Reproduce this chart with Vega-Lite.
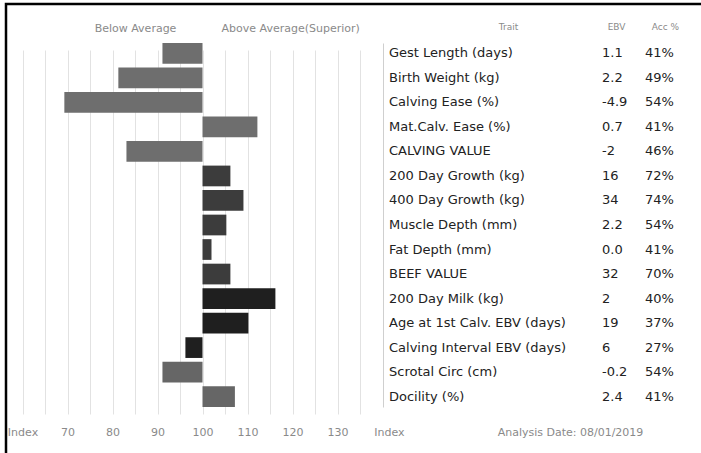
{
  "$schema": "https://vega.github.io/schema/vega-lite/v6.json",
  "width": 695,
  "height": 449,
  "autosize": {"type": "none"},
  "padding": {"left": 6, "top": 4, "right": 0, "bottom": 0},
  "background": "white",
  "config": {
    "view": {"stroke": "#000000", "strokeWidth": 2.5, "strokeDash": [695, 1144, 449]},
    "font": "DejaVu Sans",
    "axis": {"labelFont": "DejaVu Sans"}
  },
  "data": {
    "values": [
      {"trait": "Gest Length (days)", "index": 91.1, "ebv": "1.1", "acc": "41%", "group": "Calving"},
      {"trait": "Birth Weight (kg)", "index": 81.3, "ebv": "2.2", "acc": "49%", "group": "Calving"},
      {"trait": "Calving Ease (%)", "index": 69.3, "ebv": "-4.9", "acc": "54%", "group": "Calving"},
      {"trait": "Mat.Calv. Ease (%)", "index": 112.2, "ebv": "0.7", "acc": "41%", "group": "Calving"},
      {"trait": "CALVING VALUE", "index": 83.1, "ebv": "-2", "acc": "46%", "group": "Calving"},
      {"trait": "200 Day Growth (kg)", "index": 106.2, "ebv": "16", "acc": "72%", "group": "Beef"},
      {"trait": "400 Day Growth (kg)", "index": 109.1, "ebv": "34", "acc": "74%", "group": "Beef"},
      {"trait": "Muscle Depth (mm)", "index": 105.3, "ebv": "2.2", "acc": "54%", "group": "Beef"},
      {"trait": "Fat Depth (mm)", "index": 102.0, "ebv": "0.0", "acc": "41%", "group": "Beef"},
      {"trait": "BEEF VALUE", "index": 106.2, "ebv": "32", "acc": "70%", "group": "Beef"},
      {"trait": "200 Day Milk (kg)", "index": 116.2, "ebv": "2", "acc": "40%", "group": "Maternal"},
      {"trait": "Age at 1st Calv. EBV (days)", "index": 110.2, "ebv": "19", "acc": "37%", "group": "Maternal"},
      {"trait": "Calving Interval EBV (days)", "index": 96.2, "ebv": "6", "acc": "27%", "group": "Maternal"},
      {"trait": "Scrotal Circ (cm)", "index": 91.1, "ebv": "-0.2", "acc": "54%", "group": "Other"},
      {"trait": "Docility (%)", "index": 107.2, "ebv": "2.4", "acc": "41%", "group": "Other"}
    ]
  },
  "encoding": {
    "y": {
      "field": "trait", "type": "nominal", "sort": null,
      "scale": {
        "type": "band",
        "domain": ["Gest Length (days)", "Birth Weight (kg)", "Calving Ease (%)", "Mat.Calv. Ease (%)", "CALVING VALUE", "200 Day Growth (kg)", "400 Day Growth (kg)", "Muscle Depth (mm)", "Fat Depth (mm)", "BEEF VALUE", "200 Day Milk (kg)", "Age at 1st Calv. EBV (days)", "Calving Interval EBV (days)", "Scrotal Circ (cm)", "Docility (%)"],
        "range": [39, 403], "paddingInner": 0.155, "paddingOuter": 0
      },
      "axis": {"orient": "left", "offset": -377, "labels": false, "ticks": false, "domain": true, "domainColor": "#cfcfcf", "domainWidth": 1, "title": null, "grid": false}
    }
  },
  "layer": [
    {
      "layer": [
        {
          "transform": [{"filter": "datum.index < 100"}],
          "mark": {"type": "bar"},
          "encoding": {
            "x": {
              "field": "index", "type": "quantitative",
              "scale": {"domain": [56.3333, 210.7778], "nice": false, "zero": false},
              "axis": {"orient": "top", "values": [85, 119.5], "labelExpr": "datum.value < 100 ? 'Below Average' : 'Above Average(Superior)'", "grid": false, "ticks": false, "tickSize": 0, "domain": false, "labelPadding": 0, "labelBaseline": "alphabetic", "offset": -27, "labelFontSize": 11, "labelColor": "#8a8a8a", "labelOverlap": false, "labelFlush": false, "title": null}
            },
            "x2": {"datum": 100},
            "color": {"field": "group", "type": "nominal", "scale": {"domain": ["Calving", "Beef", "Maternal", "Other"], "range": ["#6e6e6e", "#3c3c3c", "#1f1f1f", "#666666"]}, "legend": null}
          }
        },
        {
          "transform": [{"filter": "datum.index >= 100"}],
          "mark": {"type": "bar"},
          "encoding": {
            "x": {
              "field": "index", "type": "quantitative",
              "scale": {"domain": [56.3333, 210.7778], "nice": false, "zero": false},
              "axis": {"orient": "bottom", "values": [60, 65, 70, 75, 80, 85, 90, 95, 100, 105, 110, 115, 120, 125, 130, 135, 141.44, 181.67], "labelExpr": "datum.value == 60 || (datum.value > 140 && datum.value < 150) ? 'Index' : (datum.value > 150 ? 'Analysis Date: 08/01/2019' : (datum.value % 10 == 0 ? datum.label : ''))", "grid": true, "gridColor": "#e2e2e2", "gridWidth": 1, "gridOpacity": {"condition": {"test": "datum.value > 136", "value": 0}, "value": 1}, "ticks": false, "tickSize": 0, "domain": false, "labelPadding": 0, "labelBaseline": "middle", "offset": -20.5, "labelFontSize": 11, "labelColor": "#8a8a8a", "labelOverlap": false, "labelFlush": false, "title": null}
            },
            "x2": {"datum": 100},
            "color": {"field": "group", "type": "nominal", "scale": {"domain": ["Calving", "Beef", "Maternal", "Other"], "range": ["#6e6e6e", "#3c3c3c", "#1f1f1f", "#666666"]}, "legend": null}
          }
        }
      ],
      "resolve": {"axis": {"x": "independent"}}
    },
    {
      "layer": [
        {
          "mark": {"type": "text", "align": "left", "baseline": "middle", "dx": -170, "fontSize": 13, "font": "DejaVu Sans", "color": "#222222"},
          "encoding": {
            "x": {"datum": "Trait", "type": "nominal", "scale": {"type": "point", "domain": ["Trait", "EBV", "Acc %"], "range": [553, 639], "padding": 0},
              "axis": {"orient": "top", "ticks": false, "tickSize": 0, "domain": false, "grid": false, "title": null, "labelAngle": 0, "labelAlign": "center", "labelBaseline": "alphabetic", "labelPadding": 0, "offset": -25.5, "labelFontSize": 9, "labelColor": "#8a8a8a", "labelOverlap": false, "labelOffset": {"condition": [{"test": "datum.value === 'Trait'", "value": -51}, {"test": "datum.value === 'EBV'", "value": 14}], "value": 20}}},
            "text": {"field": "trait"}
          }
        },
        {
          "mark": {"type": "text", "align": "left", "baseline": "middle", "dx": 0, "fontSize": 13, "font": "DejaVu Sans", "color": "#222222"},
          "encoding": {
            "x": {"datum": "EBV", "type": "nominal", "scale": {"type": "point", "domain": ["Trait", "EBV", "Acc %"], "range": [553, 639], "padding": 0},
              "axis": {"orient": "top", "ticks": false, "tickSize": 0, "domain": false, "grid": false, "title": null, "labelAngle": 0, "labelAlign": "center", "labelBaseline": "alphabetic", "labelPadding": 0, "offset": -25.5, "labelFontSize": 9, "labelColor": "#8a8a8a", "labelOverlap": false, "labelOffset": {"condition": [{"test": "datum.value === 'Trait'", "value": -51}, {"test": "datum.value === 'EBV'", "value": 14}], "value": 20}}},
            "text": {"field": "ebv"}
          }
        },
        {
          "mark": {"type": "text", "align": "left", "baseline": "middle", "dx": 0, "fontSize": 13, "font": "DejaVu Sans", "color": "#222222"},
          "encoding": {
            "x": {"datum": "Acc %", "type": "nominal", "scale": {"type": "point", "domain": ["Trait", "EBV", "Acc %"], "range": [553, 639], "padding": 0},
              "axis": {"orient": "top", "ticks": false, "tickSize": 0, "domain": false, "grid": false, "title": null, "labelAngle": 0, "labelAlign": "center", "labelBaseline": "alphabetic", "labelPadding": 0, "offset": -25.5, "labelFontSize": 9, "labelColor": "#8a8a8a", "labelOverlap": false, "labelOffset": {"condition": [{"test": "datum.value === 'Trait'", "value": -51}, {"test": "datum.value === 'EBV'", "value": 14}], "value": 20}}},
            "text": {"field": "acc"}
          }
        }
      ]
    }
  ],
  "resolve": {"scale": {"x": "independent"}, "axis": {"x": "independent"}}
}
